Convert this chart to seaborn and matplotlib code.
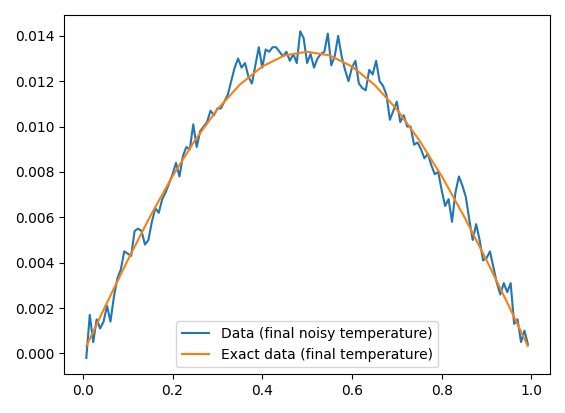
import numpy as np
import matplotlib
matplotlib.use("Agg")
import matplotlib.pyplot as plt
import seaborn as sns

# noisy final temperature (x = i/128)
noisy = [
    -0.0002, 0.0017, 0.0005, 0.0015, 0.0011, 0.0014, 0.0021, 0.0014, 0.0025, 0.0033,
    0.0037, 0.0045, 0.0044, 0.0043, 0.0054, 0.0055, 0.0054, 0.0048, 0.0050, 0.0058,
    0.0064, 0.0062, 0.0068, 0.0071, 0.0075, 0.0079, 0.0084, 0.0078, 0.0087, 0.0091,
    0.0090, 0.0101, 0.0091, 0.0098, 0.0100, 0.0102, 0.0107, 0.0105, 0.0108, 0.0108,
    0.0111, 0.0114, 0.0120, 0.0126, 0.0130, 0.0126, 0.0128, 0.0122, 0.0119, 0.0127,
    0.0135, 0.0126, 0.0134, 0.0133, 0.0135, 0.0135, 0.0133, 0.0131, 0.0133, 0.0129,
    0.0132, 0.0128, 0.0142, 0.0139, 0.0128, 0.0132, 0.0126, 0.0130, 0.0132, 0.0133,
    0.0141, 0.0127, 0.0131, 0.0140, 0.0131, 0.0125, 0.0120, 0.0126, 0.0129, 0.0119,
    0.0117, 0.0116, 0.0125, 0.0123, 0.0129, 0.0120, 0.0118, 0.0114, 0.0103, 0.0107,
    0.0111, 0.0102, 0.0105, 0.0100, 0.0100, 0.0092, 0.0093, 0.0090, 0.0086, 0.0088,
    0.0083, 0.0079, 0.0080, 0.0072, 0.0065, 0.0068, 0.0058, 0.0071, 0.0078, 0.0074,
    0.0069, 0.0059, 0.0050, 0.0057, 0.0050, 0.0041, 0.0042, 0.0045, 0.0038, 0.0031,
    0.0026, 0.0031, 0.0027, 0.0031, 0.0013, 0.0015, 0.0005, 0.0010, 0.0004,
]
x_noisy = [(i + 1) / (len(noisy) + 1) for i in range(len(noisy))]

# exact final temperature, read at a few points
x_exact = [0.008, 0.05, 0.1, 0.15, 0.2, 0.25, 0.3, 0.35, 0.4, 0.45, 0.5,
           0.55, 0.6, 0.65, 0.7, 0.75, 0.8, 0.85, 0.9, 0.95, 0.992]
exact = [0.00033, 0.00208, 0.00411, 0.00604, 0.00782, 0.0094, 0.01076, 0.01185, 0.01265, 0.01314, 0.0133,
         0.01314, 0.01265, 0.01185, 0.01076, 0.0094, 0.00782, 0.00604, 0.00411, 0.00208, 0.00033]

fig, ax = plt.subplots(figsize=(5.65, 4.13), dpi=100)
sns.lineplot(x=x_noisy, y=noisy, ax=ax, color="#1f77b4", label="Data (final noisy temperature)")
sns.lineplot(x=x_exact, y=exact, ax=ax, color="#ff7f0e", label="Exact data (final temperature)")
ax.legend(loc="lower center")
ax.set_yticks(np.arange(0, 0.0141, 0.002))
plt.tight_layout()
plt.savefig("out.png", dpi=100)
